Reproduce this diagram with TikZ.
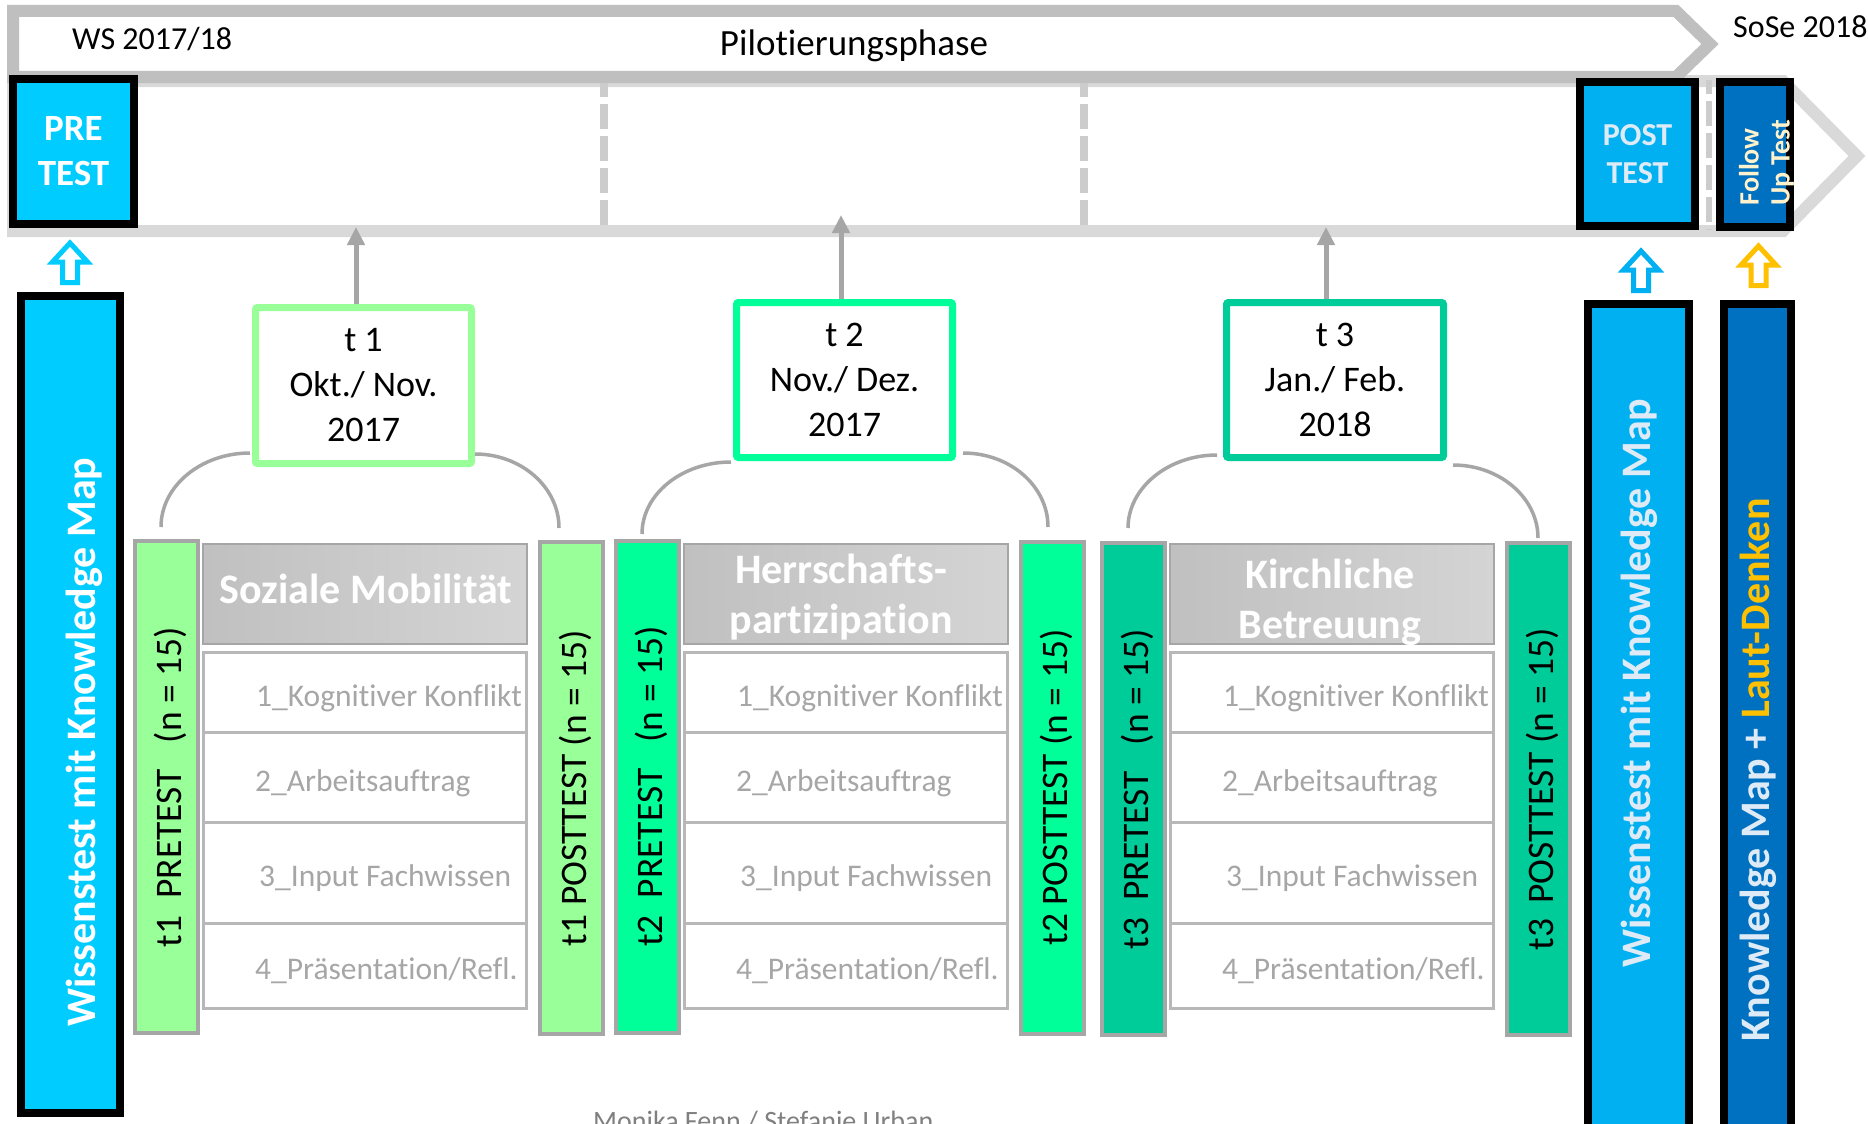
\documentclass[tikz,border=0pt]{standalone}
\usepackage{fontspec}
\setmainfont{Carlito}[Ligatures=NoCommon]
\usetikzlibrary{calc,arrows.meta}
\definecolor{bannerg}{HTML}{BFBFBF}
\definecolor{lineg}{HTML}{D9D9D9}
\definecolor{dashg}{HTML}{CCCCCC}
\definecolor{cyanA}{HTML}{00CCFF}
\definecolor{blueB}{HTML}{00B0F0}
\definecolor{blueC}{HTML}{0070C0}
\definecolor{gold}{HTML}{FFC000}
\definecolor{paleblue}{HTML}{DEEBF7}
\definecolor{paleyel}{HTML}{FFF2CC}
\definecolor{gA}{HTML}{99FF99}
\definecolor{gB}{HTML}{00FF99}
\definecolor{gC}{HTML}{00CC99}
\definecolor{arrg}{HTML}{A6A6A6}
\definecolor{rowtxt}{HTML}{A6A6A6}
\definecolor{rowline}{HTML}{B8B8B8}
\definecolor{hdrL}{HTML}{C0C0C0}
\definecolor{hdrR}{HTML}{D4D4D4}
\definecolor{footg}{HTML}{808080}
\tikzset{
 bigbox/.style={draw=black, line width=8pt, inner sep=0pt},
 tbox/.style={fill=white, line width=7pt, rounded corners=2pt, minimum width=216pt, minimum height=156pt, inner sep=0pt, align=center, font=\fontsize{36}{45}\selectfont},
 testbar/.style={draw=arrg, line width=4pt, minimum width=63pt, minimum height=492pt, inner sep=0pt},
 bartext/.style={rotate=90, anchor=base, inner sep=0pt, font=\fontsize{37.5}{44}\selectfont},
 hdr/.style={draw=arrg, line width=2pt, left color=hdrL, right color=hdrR, minimum width=324pt, minimum height=100pt, inner sep=0pt},
 hdrtext/.style={text=white, align=center, inner sep=0pt, font=\bfseries\fontsize{42}{50}\selectfont},
 rowbox/.style={draw=rowline, line width=3pt, fill=white, minimum width=323pt, inner sep=0pt},
 rowtext/.style={anchor=base west, text=rowtxt, inner sep=0pt, font=\fontsize{31.5}{36}\selectfont},
 tarrow/.style={draw=arrg, line width=5pt, -{Triangle[length=18pt,width=17pt]}},
 arcline/.style={draw=arrg, line width=3.5pt},
 dashv/.style={draw=dashg, line width=8pt, dash pattern=on 25pt off 7pt, dash phase=11pt},
 hollow/.style={line width=5pt, fill=white, line join=miter},
 vtext/.style={rotate=90, anchor=base, inner sep=0pt, font=\bfseries\fontsize{42}{50}\selectfont},
}
\begin{document}
\begin{tikzpicture}[x=1pt,y=-1pt]
\useasboundingbox (0,0) rectangle (1868,1124);
\clip (0,0) rectangle (1868,1124);
\fill[white] (0,0) rectangle (1868,1124);

% timeline arrows
\draw[draw=lineg, line width=12pt, fill=white, line join=miter] (13,81) -- (1783,81) -- (1857,156) -- (1783,231) -- (13,231) -- cycle;
\draw[draw=bannerg, line width=12pt, fill=white, line join=miter] (13,11) -- (1676,11) -- (1710,44) -- (1676,77) -- (13,77) -- cycle;
\node[anchor=base west, inner sep=0pt, font=\fontsize{32}{38}\selectfont] (ws) at (72,50) {WS 2017/18};
\node[anchor=base, inner sep=0pt, font=\fontsize{37}{44}\selectfont] (pilot) at (854,56) {Pilotierungsphase};
\node[anchor=base west, inner sep=0pt, font=\fontsize{32}{38}\selectfont] (sose) at (1733,38) {SoSe 2018};

% dashed separators
\draw[dashv] (604,83) -- (604,229);
\draw[dashv] (1084,83) -- (1084,229);
\draw[dashv, line width=6pt] (1709,80) -- (1709,230);

% test boxes on timeline
\node[bigbox, fill=cyanA, minimum width=121pt, minimum height=145pt, text=white, align=center, font=\bfseries\fontsize{37}{45}\selectfont] (pre) at (73.5,151.5) {PRE\\TEST};
\node[bigbox, fill=blueB, minimum width=115pt, minimum height=144pt, text=paleblue, align=center, font=\bfseries\fontsize{32}{38}\selectfont] (post) at (1637.5,154) {POST\\TEST};
\node[bigbox, fill=blueC, minimum width=70pt, minimum height=145pt] (fu) at (1755,154.5) {};
\node[rotate=90, align=left, text=paleyel, inner sep=0pt, font=\bfseries\fontsize{28}{31}\selectfont] (futext) at (1766.5,162.5) {Follow\\Up Test};

% hollow block arrows
\draw[hollow, draw=cyanA, shift={(70,240)}] (0,3) -- (17.5,22) -- (7.5,22) -- (7.5,42.5) -- (-7.5,42.5) -- (-7.5,22) -- (-17.5,22) -- cycle;
\draw[hollow, draw=blueB, shift={(1641,248)}] (0,3) -- (17.5,22) -- (7.5,22) -- (7.5,42.5) -- (-7.5,42.5) -- (-7.5,22) -- (-17.5,22) -- cycle;
\draw[hollow, draw=gold, shift={(1758.5,243)}] (0,3) -- (17.5,22) -- (7.5,22) -- (7.5,42.5) -- (-7.5,42.5) -- (-7.5,22) -- (-17.5,22) -- cycle;

% tall bars
\node[bigbox, fill=cyanA, minimum width=99pt, minimum height=817pt] (lbar) at (70.5,704.5) {};
\node[vtext, text=white] (lbartext) at (95,742) {Wissenstest mit Knowledge Map};
\node[bigbox, fill=blueB, minimum width=101pt, minimum height=842pt] (rbar1) at (1638.5,725) {};
\node[vtext, text=paleblue] (rbar1text) at (1650,683) {Wissenstest mit Knowledge Map};
\node[bigbox, fill=blueC, minimum width=67pt, minimum height=842pt] (rbar2) at (1757.5,725) {};
\node[vtext, text=paleblue] (rbar2text) at (1769,770) {Knowledge Map + \textcolor{gold}{Laut-Denken}};

% time point boxes
\node[tbox, draw=gA] (t1) at (363.5,385.5) {t 1\\Okt./ Nov.\\2017};
\node[tbox, draw=gB, minimum height=155pt] (t2) at (844.5,380) {t 2\\Nov./ Dez.\\2017};
\node[tbox, draw=gC, minimum height=155pt, minimum width=217pt] (t3) at (1335,380) {t 3\\Jan./ Feb.\\2018};

\coordinate (tl1) at (356,227);
\coordinate (tl2) at (841,215);
\coordinate (tl3) at (1326,227);
\draw[tarrow] (tl1 |- t1.north) -- (tl1);
\draw[tarrow] (tl2 |- t2.north) -- (tl2);
\draw[tarrow] (tl3 |- t3.north) -- (tl3);

% pre/post test bars
\node[testbar, fill=gA] (p1) at (166.5,787) {};
\node[testbar, fill=gA] (q1) at (571.5,788) {};
\node[testbar, fill=gB] (p2) at (647.5,786.5) {};
\node[testbar, fill=gB] (q2) at (1052,787.5) {};
\node[testbar, fill=gC] (p3) at (1133.5,789) {};
\node[testbar, fill=gC] (q3) at (1538.5,789) {};
\node[bartext] (p1t) at ($(p1.center)+(15,0)$) {t1\hspace{0.45em}PRETEST\hspace{0.7em}(n = 15)};
\node[bartext] (q1t) at ($(q1.center)+(15,0)$) {t1 POSTTEST (n = 15)};
\node[bartext] (p2t) at ($(p2.center)+(15,0)$) {t2\hspace{0.45em}PRETEST\hspace{0.7em}(n = 15)};
\node[bartext] (q2t) at ($(q2.center)+(15,0)$) {t2 POSTTEST (n = 15)};
\node[bartext] (p3t) at ($(p3.center)+(15,0)$) {t3\hspace{0.45em}PRETEST\hspace{0.7em}(n = 15)};
\node[bartext] (q3t) at ($(q3.center)+(15,0)$) {t3\hspace{0.4em}POSTTEST (n = 15)};

% arcs from time boxes to bars
\draw[arcline] ($(t1.south west)+(-2,-14)$) .. controls +(-49,0) and +(0,-41) .. ($(p1.north)+(-5.5,-12)$);
\draw[arcline] ($(t1.south east)+(0,-13)$) .. controls +(46,0) and +(0,-41) .. ($(q1.north)+(-12.5,-12)$);
\draw[arcline] ($(t2.south west)+(-2,1)$) .. controls +(-49,0) and +(0,-40) .. ($(p2.north)+(-5.5,-4.5)$);
\draw[arcline] ($(t2.south east)+(7,-8)$) .. controls +(47,0) and +(0,-41) .. ($(q2.north)+(-4,-12.5)$);
\draw[arcline] ($(t3.south west)+(-6,-6)$) .. controls +(-49,0) and +(0,-40) .. ($(p3.north)+(-5.5,-13)$);
\draw[arcline] ($(t3.south east)+(6,4)$) .. controls +(47,0) and +(0,-40) .. ($(q3.north)+(-0.5,-3)$);

% phase rows
\foreach \c/\L in {1/202,2/683,3/1169}{
  \node[rowbox, minimum height=80pt] (r\c-1) at (\L+163,692) {};
  \node[rowbox, minimum height=90pt] (r\c-2) at (\L+163,777) {};
  \node[rowbox, minimum height=101pt] (r\c-3) at (\L+163,872.5) {};
  \node[rowbox, minimum height=85pt] (r\c-4) at (\L+163,965.5) {};
  \node[rowtext] (r\c-1t) at (\L+54,706) {1\_Kognitiver Konflikt};
  \node[rowtext] (r\c-2t) at (\L+53,791) {2\_Arbeitsauftrag};
  \node[rowtext] (r\c-3t) at (\L+57,886) {3\_Input Fachwissen};
  \node[rowtext] (r\c-4t) at (\L+53,979.5) {4\_Präsentation/Refl.};
}

% headers
\node[hdr] (h1) at (365,594) {};
\node[hdr] (h2) at (846,593.5) {};
\node[hdr] (h3) at (1332,594) {};
\node[hdrtext, anchor=base] (h1t) at (366,603) {Soziale Mobilität};
\node[hdrtext] (h2t) at (841,597.5) {Herrschafts-\\partizipation};
\node[hdrtext] (h3t) at (1330,602) {Kirchliche\\Betreuung};

% footer
\node[anchor=base west, text=footg, inner sep=0pt, font=\fontsize{28}{34}\selectfont] (footer) at (593,1130) {Monika Fenn / Stefanie Urban};
\end{tikzpicture}
\end{document}
